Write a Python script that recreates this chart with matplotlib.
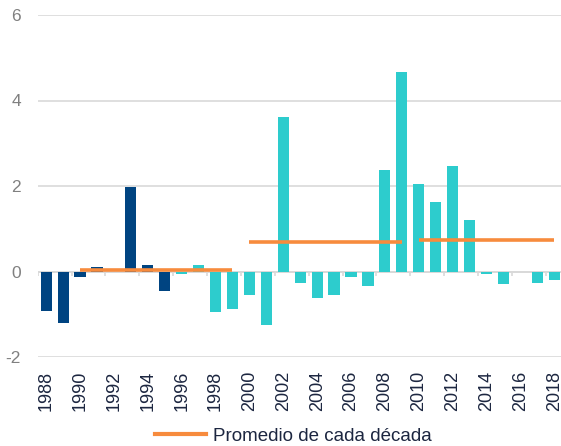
import numpy as np
import matplotlib
matplotlib.use('Agg')
import matplotlib.pyplot as plt
from matplotlib.lines import Line2D

plt.rcParams['font.family'] = ['Liberation Sans', 'DejaVu Sans']
plt.rcParams['axes.unicode_minus'] = False

# data
years = list(range(1988, 2019))
values = [-0.92, -1.20, -0.12, 0.11, 0.0, 1.98, 0.16, -0.45,
          -0.07, 0.16, -0.95, -0.87, -0.54, -1.24, 3.61, -0.26,
          -0.63, -0.54, -0.12, -0.35, 2.37, 4.67, 2.04, 1.62,
          2.46, 1.20, -0.07, -0.30, -0.02, -0.26, -0.21]
decade_starts = [1990, 2000, 2010]
decade_ends = [1999, 2009, 2018]
decade_means = [0.04, 0.69, 0.73]
dark_until = 1995

dark = '#004481'
aqua = '#2DCCCD'
orange = '#F78B3D'
grid = '#D9D9D9'
txt = '#1c2640'

fig = plt.figure(figsize=(5.61, 4.46), dpi=100)
ax = fig.add_axes([37.7/561, 1-357/446, 525/561, 342/446])

x = np.arange(len(years))
colors = [dark if y <= dark_until else aqua for y in years]
ax.bar(x, values, width=0.66, color=colors, zorder=3)

for s, e, m in zip(decade_starts, decade_ends, decade_means):
    xs = [years.index(s), years.index(e)]
    ax.plot(xs, [m, m], color=orange, lw=2.6, zorder=4, solid_capstyle='butt')

ax.set_xlim(-0.5, len(years)-0.5)
ax.set_ylim(-2, 6)
ax.set_yticks([-2, 0, 2, 4, 6])
ax.yaxis.grid(True, color=grid, lw=1.2, zorder=0)
ax.axhline(0, color=grid, lw=1.4, zorder=2)
# small category ticks hanging from the zero line
ax.vlines(np.arange(-0.5, len(years), 2), -0.1, 0, color=grid, lw=1.2, zorder=2)

ax.set_xticks(x[::2])
ax.set_xticklabels([str(y) for y in years[::2]], rotation=90, color=txt, fontsize=13)
ax.tick_params(axis='x', length=0, pad=10)
ax.tick_params(axis='y', length=0, pad=12, labelcolor='#808080', labelsize=12.5)
for sp in ax.spines.values():
    sp.set_visible(False)

handle = Line2D([], [], color=orange, lw=3)
fig.legend([handle], ['Promedio de cada década'], loc='center',
           bbox_to_anchor=(0.523, 10/446), frameon=False, fontsize=13.5,
           handlelength=2.7, handletextpad=0.4, labelcolor=txt)

fig.savefig('out.png', dpi=100)
